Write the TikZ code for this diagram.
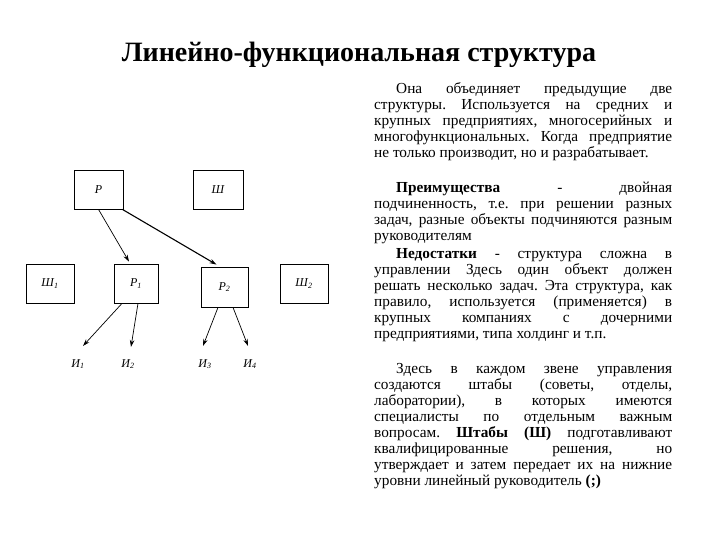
\documentclass[tikz,border=0pt]{standalone}
\usepackage{fontspec}
\setmainfont{Liberation Serif}
\usetikzlibrary{arrows.meta,positioning}

\tikzset{
  box/.style={draw, line width=0.8pt, minimum height=39pt, inner sep=0pt,
    font=\fontsize{12}{14}\selectfont\itshape},
  lbl/.style={anchor=base, inner sep=0pt, font=\fontsize{12}{14}\selectfont\itshape},
  arr/.style={-{Stealth[length=7pt,width=4.5pt]}, line width=0.7pt},
  para/.style={anchor=north west, inner sep=0pt, text width=298pt, align=justify,
    font=\fontsize{15.3}{16}\selectfont\frenchspacing}
}

\begin{document}
\begin{tikzpicture}[x=1pt,y=-1pt]
      \useasboundingbox[fill=white] (0,0) rectangle (720,540);
      % title
      \node[anchor=base, font=\fontsize{28}{32}\selectfont\bfseries] (title) at (359,62)
        {Линейно-функциональная структура};
      % boxes
      \node[box, minimum width=49pt] (P) at (98.5,189.5) {Р};
      \node[box, minimum width=50pt] (Sh) at (218,189.5) {Ш};
      \node[box, minimum width=48pt] (Sh1) at (50,283.5) {Ш\textsubscript{1}};
      \node[box, minimum width=44pt] (P1) at (136,283.5) {Р\textsubscript{1}};
      \node[box, minimum width=47pt, minimum height=40pt] (P2) at (224.5,287) {Р\textsubscript{2}};
      \node[box, minimum width=48pt] (Sh2) at (304,283.5) {Ш\textsubscript{2}};
      % executors
      \node[lbl] (I1) at (78,367) {И\textsubscript{1}};
      \node[lbl] (I2) at (128,367) {И\textsubscript{2}};
      \node[lbl] (I3) at (205,367) {И\textsubscript{3}};
      \node[lbl] (I4) at (250,367) {И\textsubscript{4}};
      % arrows
      \draw[arr] (P.south) -- ([xshift=-7pt,yshift=2pt]P1.north);
      \draw[arr, line width=1.1pt] ([xshift=-1pt]P.south east) -- ([xshift=-8pt,yshift=2pt]P2.north);
      \draw[arr] ([xshift=-14pt]P1.south) -- ([xshift=5pt,yshift=13pt]I1.north);
      \draw[arr] ([xshift=2pt]P1.south) -- ([xshift=3pt,yshift=12pt]I2.north);
      \draw[arr] ([xshift=-6.5pt]P2.south) -- ([xshift=-2pt,yshift=13pt]I3.north);
      \draw[arr] ([xshift=8.5pt]P2.south) -- ([xshift=-2pt,yshift=13pt]I4.north);
      % text
      \node[para] (txtA) at (374,82) {\hspace*{22pt}Она объединяет предыдущие две\linebreak
        структуры. Используется на средних и\linebreak
        крупных предприятиях, многосерийных и\linebreak
        многофункциональных. Когда предприятие\linebreak
        не только производит, но и разрабатывает.};
      \node[para] (txtB) at (374,181.5) {\hspace*{22pt}\textbf{Преимущества} - двойная\linebreak
        подчиненность, т.е. при решении разных\linebreak
        задач, разные объекты подчиняются разным\linebreak
        руководителям\par\vspace{2pt}
        \hspace*{22pt}\textbf{Недостатки} - структура сложна в\linebreak
        управлении Здесь один объект должен\linebreak
        решать несколько задач. Эта структура, как\linebreak
        правило, используется (применяется) в\linebreak
        крупных компаниях с дочерними\linebreak
        предприятиями, типа холдинг и т.п.};
      \node[para] (txtC) at (374,363.5) {\hspace*{22pt}Здесь в каждом звене управления\linebreak
        создаются штабы (советы, отделы,\linebreak
        лаборатории), в которых имеются\linebreak
        специалисты по отдельным важным\linebreak
        вопросам. \textbf{Штабы (Ш)} подготавливают\linebreak
        квалифицированные решения, но\linebreak
        утверждает и затем передает их на нижние\linebreak
        уровни линейный руководитель \textbf{(;)}};
\end{tikzpicture}
\end{document}
